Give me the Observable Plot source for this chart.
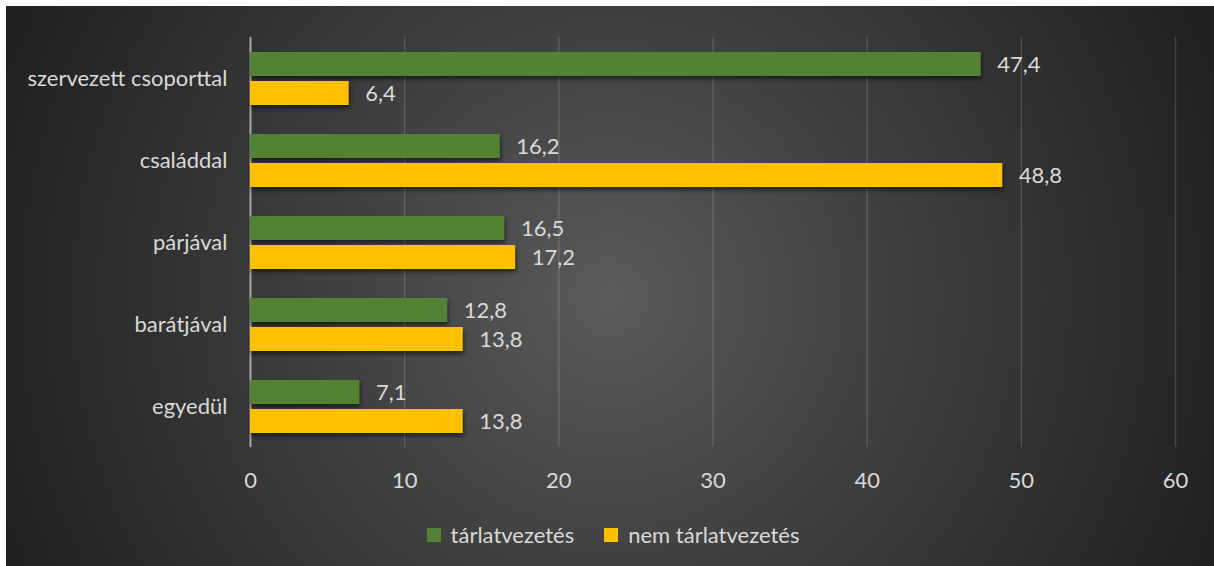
<!DOCTYPE html>
<html>
<head>
<meta charset="utf-8">
<script src="https://cdn.jsdelivr.net/npm/d3@7"></script>
<script src="https://cdn.jsdelivr.net/npm/@observablehq/plot@0.6"></script>
<style>
  html, body { margin: 0; padding: 0; background: #ffffff; }
  #panel {
    position: absolute; left: 6px; top: 6px; width: 1208px; height: 560px;
    background: radial-gradient(circle farthest-corner at 50% 52%, #5a5a5a 0%, #3e3e3e 45%, #1e1e1e 100%);
    font-family: Lato, sans-serif;
  }
  #chart { position: absolute; left: 0; top: 0; }
  #legend { position: absolute; left: 0; top: 515px; width: 1208px; display: flex; justify-content: center; padding-left: 36px; box-sizing: border-box; }
  .bars rect { filter: drop-shadow(1px 3px 2px rgba(0,0,0,0.55)); }
</style>
</head>
<body>
<div id="panel"><div id="chart"></div><div id="legend"></div></div>
<script>
const categories = ["szervezett csoporttal", "családdal", "párjával", "barátjával", "egyedül"];
const series = ["tárlatvezetés", "nem tárlatvezetés"];
const tarlatvezetes = [47.4, 16.2, 16.5, 12.8, 7.1];
const nemTarlatvezetes = [6.4, 48.8, 17.2, 13.8, 13.8];
const xTicks = [0, 10, 20, 30, 40, 50, 60];
const colors = ["#548235", "#FFC000"];

const data = [];
categories.forEach((c, i) => {
  data.push({category: c, series: series[0], value: tarlatvezetes[i]});
  data.push({category: c, series: series[1], value: nemTarlatvezetes[i]});
});

const textColor = "#d9d9d9";
const fontSize = 22;

const chart = Plot.plot({
  width: 1208,
  height: 500,
  marginLeft: 244,
  marginRight: 39,
  marginTop: 29,
  marginBottom: 57,
  style: {background: "transparent", fontFamily: "Lato, sans-serif", color: textColor, overflow: "visible"},
  x: {domain: [0, 60], ticks: xTicks},
  y: {domain: series, paddingInner: 0.183, paddingOuter: 0.47, axis: null},
  fy: {domain: categories, padding: 0},
  color: {domain: series, range: colors},
  marks: [
    Plot.gridX(xTicks, {stroke: "#ffffff", strokeOpacity: 0.16, strokeWidth: 1.3}),
    Plot.ruleX([0], {stroke: "#a6a6a6", strokeWidth: 2}),
    Plot.barX(data, {x: "value", y: "series", fy: "category", fill: "series", className: "bars"}),
    Plot.text(data, {
      x: "value", y: "series", fy: "category",
      text: d => d.value.toFixed(1).replace(".", ","),
      textAnchor: "start", dx: 16, fill: textColor, fontSize
    }),
    Plot.axisFy({anchor: "left", tickSize: 0, tickPadding: 23, fontSize, label: null, fill: textColor}),
    Plot.axisX({ticks: xTicks, tickSize: 0, tickPadding: 25, fontSize, label: null, fill: textColor})
  ]
});
document.getElementById("chart").appendChild(chart);

const legend = Plot.legend({
  color: {domain: series, range: colors},
  legend: "swatches",
  swatchSize: 14,
  style: {color: textColor, fontSize: "22px", fontFamily: "Lato, sans-serif", background: "transparent"}
});
document.getElementById("legend").appendChild(legend);
</script>
<style>
  #legend > div { margin: 0 !important; min-height: 0 !important; }
  #legend span { margin-right: 30px !important; }
  #legend svg { margin-right: 10px !important; }
</style>
</body>
</html>
